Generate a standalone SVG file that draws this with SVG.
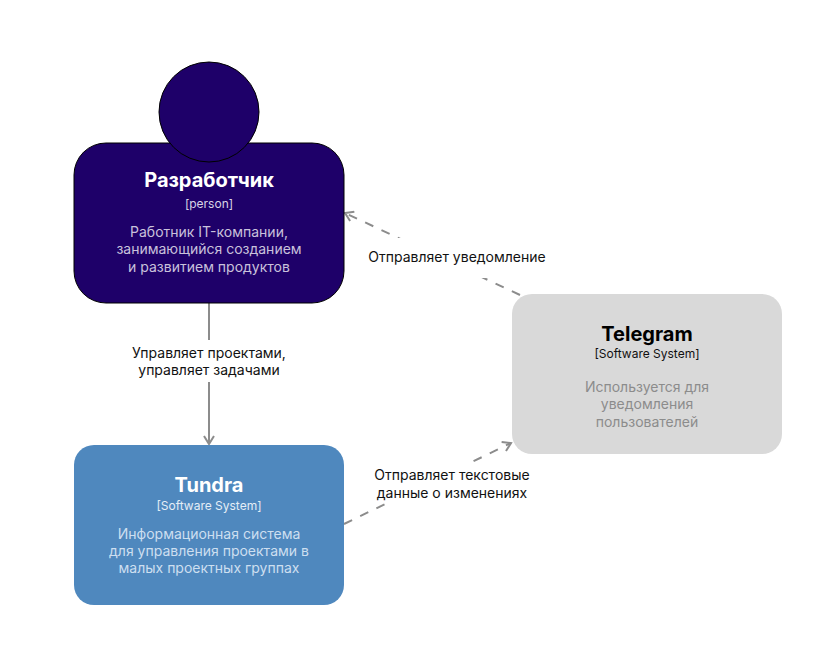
<svg xmlns="http://www.w3.org/2000/svg" width="833" height="669" viewBox="0 0 833 669">
<style>
text{font-family:Inter,"Noto Sans","Liberation Sans",sans-serif;text-anchor:middle}
.t{font-weight:700;font-size:20px}
.ty{font-size:12px}
.d{font-size:14px}
.lbl{font-size:14px;fill:#111}
.ln{fill:none;stroke:#8c8c8c;stroke-width:2}
.dash{stroke-dasharray:9 9}
</style>
<defs>
<marker id="ah" viewBox="0 0 12 12" refX="10" refY="6" markerWidth="12" markerHeight="12" markerUnits="userSpaceOnUse" orient="auto">
<path d="M2,1 L10,6 L2,11" fill="none" stroke="#8c8c8c" stroke-width="2"/>
</marker>
</defs>
<rect width="833" height="669" fill="#fff"/>
<g id="connectors">
<g id="c1">
<path class="ln" d="M209,303 L209,444" marker-end="url(#ah)"/>
<rect x="115" y="340" width="188" height="42" fill="#fff"/>
<text class="lbl" x="209" y="358">Управляет проектами,</text>
<text class="lbl" x="209" y="375">управляет задачами</text>
</g>
<g id="c2">
<path class="ln dash" d="M520,295 L345,213" marker-end="url(#ah)"/>
<rect x="355" y="238" width="205" height="40" fill="#fff"/>
<text class="lbl" x="457" y="262">Отправляет уведомление</text>
</g>
<g id="c3">
<path class="ln dash" d="M344,524 L511,443" marker-end="url(#ah)"/>
<rect x="355" y="462" width="195" height="40" fill="#fff"/>
<text class="lbl" x="452" y="480">Отправляет текстовые</text>
<text class="lbl" x="452" y="498">данные о изменениях</text>
</g>
</g>
<g id="developer">
<rect x="74" y="143" width="270" height="160" rx="32" fill="#1e0069" stroke="#000" stroke-width="1"/>
<circle cx="209" cy="112" r="50" fill="#1e0069" stroke="#000" stroke-width="1"/>
<text class="t" x="209" y="187" fill="#fff">Разработчик</text>
<text class="ty" x="209" y="208" fill="#d8d4e6">[person]</text>
<text class="d" x="209" y="237" fill="#c9c2dc">Работник IT-компании,</text>
<text class="d" x="209" y="254" fill="#c9c2dc">занимающийся созданием</text>
<text class="d" x="209" y="272" fill="#c9c2dc">и развитием продуктов</text>
</g>
<g id="telegram">
<rect x="512" y="294" width="270" height="160" rx="20" fill="#d9d9d9"/>
<text class="t" x="647" y="341" fill="#000">Telegram</text>
<text class="ty" x="647" y="358" fill="#111">[Software System]</text>
<text class="d" x="647" y="392" fill="#8c8c8c">Используется для</text>
<text class="d" x="647" y="409" fill="#8c8c8c">уведомления</text>
<text class="d" x="647" y="427" fill="#8c8c8c">пользователей</text>
</g>
<g id="tundra">
<rect x="74" y="445" width="270" height="160" rx="20" fill="#4f88be"/>
<text class="t" x="209" y="492" fill="#fff">Tundra</text>
<text class="ty" x="209" y="510" fill="#e4edf6">[Software System]</text>
<text class="d" x="209" y="539" fill="#cddff0">Информационная система</text>
<text class="d" x="209" y="556" fill="#cddff0">для управления проектами в</text>
<text class="d" x="209" y="573" fill="#cddff0">малых проектных группах</text>
</g>
</svg>
